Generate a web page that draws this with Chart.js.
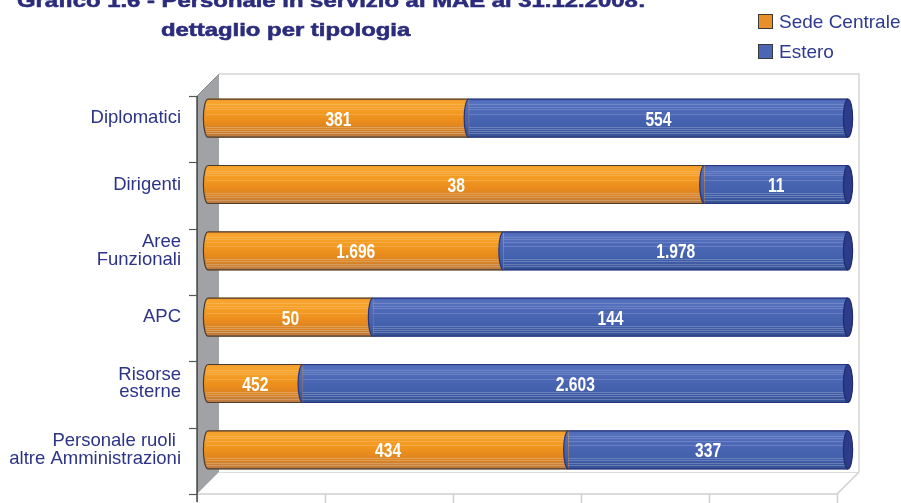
<!DOCTYPE html>
<html><head><meta charset="utf-8">
<script src="https://cdn.jsdelivr.net/npm/chart.js@4"></script>
<style>html,body{margin:0;padding:0;background:#fff;overflow:hidden}#wrap{width:901px;height:503px;position:relative}canvas{display:block}</style>
</head><body><div id="wrap"><canvas id="c" width="901" height="503"></canvas></div>
<script>
const categories = ['Diplomatici', 'Dirigenti', ['Aree', 'Funzionali'], 'APC', ['Risorse', 'esterne'], ['Personale ruoli ', 'altre Amministrazioni']];
const sedeCentrale = [381, 38, 1696, 50, 452, 434];
const estero = [554, 11, 1978, 144, 2603, 337];
const seriesNames = ['Sede Centrale', 'Estero'];
const titleLines = ['Grafico 1.6 - Personale in servizio al MAE al 31.12.2008:', 'dettaglio per tipologia'];

const totals = sedeCentrale.map((v, i) => v + estero[i]);
const pctSede = sedeCentrale.map((v, i) => v / totals[i] * 100);
const pctEstero = estero.map((v, i) => v / totals[i] * 100);
const fmt = n => String(n).replace(/\B(?=(\d{3})+(?!\d))/g, '.');

const FONT = '"Liberation Sans", Arial, Helvetica, sans-serif';
const BAR_H = 38;

function orangeGrad(ctx, top, bot) {
  const g = ctx.createLinearGradient(0, top, 0, bot);
  g.addColorStop(0, '#f09828'); g.addColorStop(0.08, '#f7a52f'); g.addColorStop(0.35, '#f39a21');
  g.addColorStop(0.6, '#e98b1c'); g.addColorStop(0.82, '#d58228'); g.addColorStop(1, '#b97a45');
  return g;
}
function blueGrad(ctx, top, bot) {
  const g = ctx.createLinearGradient(0, top, 0, bot);
  g.addColorStop(0, '#4a64b0'); g.addColorStop(0.1, '#5672bf'); g.addColorStop(0.4, '#4a66b4');
  g.addColorStop(0.7, '#4260ac'); g.addColorStop(0.9, '#3b579f'); g.addColorStop(1, '#34508f');
  return g;
}
function scriptColor(kind) {
  return (c) => {
    const chart = c.chart;
    if (!chart.chartArea || !chart.scales.y) return kind === 'o' ? '#ef9420' : '#4864b2';
    const yc = chart.scales.y.getPixelForValue(c.dataIndex);
    const f = kind === 'o' ? orangeGrad : blueGrad;
    return f(chart.ctx, yc - BAR_H / 2, yc + BAR_H / 2);
  };
}

const deco = {
  id: 'deco',
  beforeDraw(chart) {
    const ctx = chart.ctx, ca = chart.chartArea, d = 11;
    const L = ca.left - d, R = ca.right - d, T = ca.top + d, B = ca.bottom + d;
    const L2 = ca.left + d, R2 = ca.right + d, T2 = ca.top - d, B2 = ca.bottom - d;
    ctx.save();
    ctx.fillStyle = '#fff'; ctx.fillRect(0, 0, chart.width, chart.height);
    // back wall
    ctx.strokeStyle = '#d6d6d6'; ctx.lineWidth = 1.5;
    ctx.beginPath(); ctx.moveTo(L2, T2); ctx.lineTo(R2, T2); ctx.lineTo(R2, B2); ctx.stroke();
    // floor
    ctx.strokeStyle = '#dcdcdc'; ctx.lineWidth = 1;
    ctx.beginPath(); ctx.moveTo(L2, B2 + 0.5); ctx.lineTo(R2, B2 + 0.5); ctx.stroke();
    ctx.strokeStyle = '#cfcfcf'; ctx.lineWidth = 1.5;
    ctx.beginPath(); ctx.moveTo(L, B); ctx.lineTo(R, B); ctx.lineTo(R2, B2); ctx.stroke();
    for (let k = 0; k <= 5; k++) {
      const x = Math.round(L + k * (R - L) / 5) + 0.5;
      ctx.beginPath(); ctx.moveTo(x, B); ctx.lineTo(x, B + 12); ctx.stroke();
    }
    // left wall
    ctx.fillStyle = '#a1a2a6';
    ctx.beginPath(); ctx.moveTo(L, T); ctx.lineTo(L2, T2); ctx.lineTo(L2, B2); ctx.lineTo(L, B); ctx.closePath(); ctx.fill();
    ctx.strokeStyle = '#8d8e92'; ctx.lineWidth = 1;
    ctx.beginPath(); ctx.moveTo(L, T); ctx.lineTo(L2, T2); ctx.stroke();
    // axis line and ticks
    ctx.strokeStyle = '#222'; ctx.lineWidth = 1.2;
    ctx.beginPath(); ctx.moveTo(L, T); ctx.lineTo(L, B + 8); ctx.stroke();
    ctx.strokeStyle = '#555';
    for (let k = 0; k <= categories.length; k++) {
      const y = Math.round(T + k * (B - T) / categories.length) + 0.5;
      ctx.beginPath(); ctx.moveTo(L - 8, y); ctx.lineTo(L, y); ctx.stroke();
    }
    ctx.restore();
  },
  afterDatasetsDraw(chart) {
    const ctx = chart.ctx;
    const mo = chart.getDatasetMeta(0), mb = chart.getDatasetMeta(1);
    ctx.save();
    for (let i = 0; i < categories.length; i++) {
      const o = mo.data[i].getProps(['x', 'y', 'base', 'height'], true);
      const b = mb.data[i].getProps(['x', 'y', 'base', 'height'], true);
      const yc = o.y, h = o.height, top = yc - h / 2, bot = yc + h / 2;
      const x0 = o.base, x1 = o.x, x2 = b.x;
      const rx = 4.6, ry = h / 2;
      // orange left cap
      ctx.fillStyle = orangeGrad(ctx, top, bot);
      ctx.beginPath(); ctx.ellipse(x0, yc, rx, ry, 0, Math.PI / 2, Math.PI * 1.5); ctx.closePath(); ctx.fill();
      // stripes
      const fr = [0.14, 0.2, 0.26, 0.38, 0.72, 0.78, 0.84, 0.9];
      ctx.lineWidth = 1;
      fr.forEach((f, j) => {
        const y = Math.round(top + f * h) + 0.5;
        ctx.strokeStyle = 'rgba(255,255,255,' + (j < 4 ? 0.16 : 0.22) + ')';
        ctx.beginPath(); ctx.moveTo(x0 - 2, y); ctx.lineTo(x2, y); ctx.stroke();
      });
      // orange outline
      ctx.strokeStyle = '#4b3b2c'; ctx.lineWidth = 1.2;
      ctx.beginPath(); ctx.moveTo(x1, top); ctx.lineTo(x0, top);
      ctx.ellipse(x0, yc, rx, ry, 0, Math.PI * 1.5, Math.PI / 2, true);
      ctx.lineTo(x1, bot); ctx.stroke();
      // blue left edge (half ellipse over orange)
      ctx.fillStyle = blueGrad(ctx, top, bot);
      ctx.beginPath(); ctx.ellipse(x1, yc, rx, ry, 0, Math.PI / 2, Math.PI * 1.5); ctx.closePath(); ctx.fill();
      ctx.strokeStyle = '#26357c'; ctx.lineWidth = 1.2;
      ctx.beginPath(); ctx.ellipse(x1, yc, rx, ry, 0, Math.PI / 2, Math.PI * 1.5); ctx.stroke();
      ctx.beginPath(); ctx.moveTo(x1, top); ctx.lineTo(x2, top); ctx.moveTo(x1, bot); ctx.lineTo(x2, bot); ctx.stroke();
      // blue right cap
      ctx.fillStyle = '#2c3b8a'; ctx.strokeStyle = '#1f2c6e';
      ctx.beginPath(); ctx.ellipse(x2, yc, rx, ry, 0, 0, Math.PI * 2); ctx.fill(); ctx.stroke();
      // labels
      ctx.fillStyle = '#ffffff'; ctx.font = 'bold 20px ' + FONT; ctx.textAlign = 'center'; ctx.textBaseline = 'alphabetic';
      [[(x0 + x1) / 2, sedeCentrale[i]], [(x1 + x2) / 2, estero[i]]].forEach(([cx, v]) => {
        ctx.save(); ctx.translate(cx, yc + 7.5); ctx.scale(0.78, 1); ctx.fillText(fmt(v), 0, 0); ctx.restore();
      });
    }
    ctx.restore();
  },
  afterDraw(chart) {
    const ctx = chart.ctx;
    ctx.save();
    // title
    ctx.fillStyle = '#2b2c7c'; ctx.strokeStyle = '#2b2c7c'; ctx.lineWidth = 0.6;
    ctx.font = 'bold 19px ' + FONT; ctx.textAlign = 'left'; ctx.textBaseline = 'alphabetic';
    [[17, 7, titleLines[0]], [161, 36, titleLines[1]]].forEach(([x, y, t]) => {
      ctx.save(); ctx.translate(x, y); ctx.scale(1.256, 1); ctx.fillText(t, 0, 0); ctx.strokeText(t, 0, 0); ctx.restore();
    });
    // legend
    const cols = ['#e88f2a', '#4a66b4'];
    seriesNames.forEach((n, k) => {
      const y = 14 + k * 30;
      ctx.fillStyle = cols[k]; ctx.fillRect(758, y, 15, 15);
      ctx.strokeStyle = '#3a3a3a'; ctx.lineWidth = 1; ctx.strokeRect(758.5, y + 0.5, 14, 14);
      ctx.fillStyle = '#2e3a92'; ctx.font = '19px ' + FONT;
      ctx.fillText(n, 779, y + 14);
    });
    ctx.restore();
  }
};

new Chart(document.getElementById('c'), {
  type: 'bar',
  data: {
    labels: categories,
    datasets: [
      { label: seriesNames[0], data: pctSede, backgroundColor: scriptColor('o'), borderWidth: 0, barThickness: BAR_H },
      { label: seriesNames[1], data: pctEstero, backgroundColor: scriptColor('b'), borderWidth: 0, barThickness: BAR_H }
    ]
  },
  options: {
    indexAxis: 'y', responsive: false, animation: false, devicePixelRatio: 1,
    layout: { padding: { left: 0, right: 53, top: 85, bottom: 20 } },
    plugins: { legend: { display: false }, title: { display: false }, tooltip: { enabled: false } },
    scales: {
      x: { stacked: true, min: 0, max: 100, display: false },
      y: {
        stacked: true,
        grid: { display: false, drawTicks: false },
        border: { display: false },
        ticks: { color: '#2d3387', font: { family: FONT, size: 18.5, lineHeight: 0.93 }, padding: 27, crossAlign: 'near', autoSkip: false },
        afterFit: (s) => { s.width = 208; s.paddingTop = 0; s.paddingBottom = 0; }
      }
    }
  },
  plugins: [deco]
});
</script>
</body></html>
